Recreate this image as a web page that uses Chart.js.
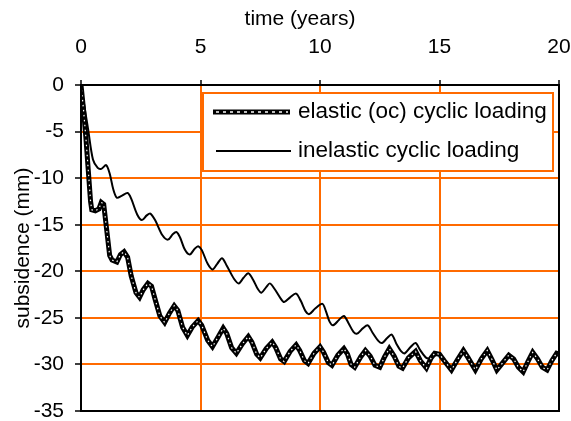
<!DOCTYPE html>
<html>
<head>
<meta charset="utf-8">
<script src="https://cdn.jsdelivr.net/npm/chart.js@4.4.1/dist/chart.umd.min.js"></script>
<style>
  html, body { margin: 0; padding: 0; background: #fff; }
  #wrap { width: 571px; height: 421px; }
</style>
</head>
<body>
<div id="wrap"><canvas id="subsidencechart"></canvas></div>
<script>
// elastic (oc) cyclic loading
const timeElastic = [0, 0.1, 0.2, 0.3, 0.4, 0.45, 0.6, 0.75, 0.85, 0.95, 1.05, 1.2, 1.3, 1.5, 1.65, 1.8, 1.95, 2.1, 2.3, 2.45, 2.6, 2.8, 2.95, 3.1, 3.3, 3.5, 3.7, 3.9, 4.05, 4.25, 4.45, 4.65, 4.9, 5.05, 5.3, 5.5, 5.75, 5.95, 6.1, 6.3, 6.5, 6.75, 7.0, 7.15, 7.35, 7.5, 7.75, 8.0, 8.15, 8.35, 8.5, 8.75, 9.0, 9.15, 9.35, 9.5, 9.75, 10.0, 10.15, 10.35, 10.5, 10.75, 11.0, 11.15, 11.3, 11.45, 11.7, 11.9, 12.1, 12.3, 12.5, 12.7, 12.9, 13.1, 13.3, 13.45, 13.7, 14.0, 14.2, 14.45, 14.65, 14.8, 15.0, 15.2, 15.5, 15.75, 16.0, 16.2, 16.5, 16.75, 17.0, 17.2, 17.4, 17.65, 17.9, 18.1, 18.3, 18.5, 18.7, 18.9, 19.1, 19.3, 19.5, 19.7, 19.9, 20];
const subsElastic = [0, -2.5, -5.5, -9, -12.5, -13.4, -13.5, -13.3, -12.6, -12.8, -15, -18.3, -18.8, -19, -18.2, -17.9, -18.5, -20.5, -22.3, -22.8, -22, -21.3, -21.6, -23, -24.8, -25.5, -24.5, -23.7, -24.2, -26, -26.9, -26, -25.3, -25.8, -27.4, -28.1, -27, -26.1, -26.7, -28.2, -28.8, -27.8, -27.0, -27.6, -28.9, -29.3, -28.3, -27.6, -28.2, -29.4, -29.7, -28.6, -27.9, -28.5, -29.6, -29.9, -28.8, -28.1, -28.7, -29.8, -30.1, -29.0, -28.3, -28.9, -30.0, -30.3, -29.2, -28.5, -29.1, -30.1, -30.3, -29.2, -28.3, -29.1, -30.2, -30.4, -29.3, -28.6, -29.6, -30.4, -29.3, -28.8, -28.9, -29.6, -30.6, -29.5, -28.5, -29.3, -30.6, -29.4, -28.5, -29.5, -30.6, -29.8, -29.0, -29.4, -30.3, -30.8, -29.7, -28.7, -29.4, -30.3, -30.6, -29.6, -28.8, -28.9];

// inelastic cyclic loading
const timeInelastic = [0, 0.1, 0.2, 0.3, 0.5, 0.7, 0.85, 1.05, 1.2, 1.35, 1.5, 1.7, 1.95, 2.1, 2.35, 2.55, 2.75, 2.9, 3.1, 3.4, 3.64, 3.85, 4.0, 4.15, 4.35, 4.55, 4.75, 4.9, 5.05, 5.3, 5.5, 5.7, 5.9, 6.1, 6.4, 6.6, 6.8, 7.0, 7.2, 7.4, 7.55, 7.75, 7.9, 8.1, 8.35, 8.5, 8.75, 9.0, 9.2, 9.4, 9.55, 9.8, 10.1, 10.25, 10.4, 10.55, 10.8, 11.0, 11.2, 11.4, 11.55, 11.8, 12.0, 12.2, 12.45, 12.6, 12.8, 13.0, 13.2, 13.4, 13.55, 13.8, 14.0, 14.2, 14.45, 14.65, 14.85, 15.0, 15.2, 15.5, 15.75, 16.0, 16.2, 16.5, 16.75, 17.0, 17.2, 17.4, 17.7, 17.9, 18.1, 18.3, 18.5, 18.7, 18.9, 19.1, 19.3, 19.5, 19.7, 19.9, 20];
const subsInelastic = [0, -1.6, -3.2, -4.8, -8.0, -8.9, -9.0, -8.6, -9.5, -11.2, -12.1, -11.9, -11.6, -12.2, -13.9, -14.5, -14.0, -13.8, -14.5, -16.1, -16.6, -16.0, -15.8, -16.4, -17.7, -18.2, -17.6, -17.3, -17.7, -19.2, -19.8, -19.2, -18.6, -19.4, -20.8, -21.3, -20.7, -20.2, -20.9, -21.9, -22.3, -21.7, -21.3, -21.9, -22.9, -23.3, -22.8, -22.4, -23.2, -24.3, -24.6, -24.0, -23.5, -24.3, -25.4, -25.8, -25.2, -24.8, -25.6, -26.5, -26.7, -26.1, -25.8, -26.6, -27.5, -27.7, -27.2, -26.8, -27.8, -28.6, -28.8, -28.1, -27.7, -28.5, -29.3, -29.3, -29.0, -29.0, -29.6, -30.4, -29.4, -28.6, -29.3, -30.4, -29.4, -28.6, -29.4, -30.4, -29.7, -29.1, -29.5, -30.2, -30.6, -29.7, -28.8, -29.4, -30.2, -30.5, -29.6, -28.9, -29.0];

const xTicks = [0, 5, 10, 15, 20];
const yTicks = [0, -5, -10, -15, -20, -25, -30, -35];
const seriesNames = ["elastic (oc) cyclic loading", "inelastic cyclic loading"];
const xTitle = "time (years)";

const orange = "#ff6a00";
const fontName = "'Liberation Sans', Arial, sans-serif";

function toPoints(xs, ys) {
    return xs.map((x, i) => ({ x: x, y: ys[i] }));
}

// frame round the plot area, legend box inside it, x title
const frameAndLegend = {
    id: "frameAndLegend",
    afterDatasetsDraw(chart) {
        const ctx = chart.ctx;
        const a = chart.chartArea;
        ctx.save();
        ctx.strokeStyle = "#000";
        ctx.lineWidth = 2;
        ctx.strokeRect(a.left, a.top, a.right - a.left, a.bottom - a.top);

        // legend
        ctx.fillStyle = "#fff";
        ctx.fillRect(203, 93, 350, 78);
        ctx.strokeStyle = orange;
        ctx.lineWidth = 2;
        ctx.strokeRect(203, 93, 350, 78);

        ctx.strokeStyle = "#000";
        ctx.lineWidth = 5;
        ctx.beginPath(); ctx.moveTo(213, 112); ctx.lineTo(290, 112); ctx.stroke();
        ctx.strokeStyle = "#fff";
        ctx.lineWidth = 1.5;
        ctx.setLineDash([3, 4]);
        ctx.beginPath(); ctx.moveTo(216, 112); ctx.lineTo(288, 112); ctx.stroke();
        ctx.setLineDash([]);

        ctx.strokeStyle = "#000";
        ctx.lineWidth = 2;
        ctx.beginPath(); ctx.moveTo(216, 151); ctx.lineTo(291, 151); ctx.stroke();

        ctx.fillStyle = "#000";
        ctx.font = "22.5px " + fontName;
        ctx.textBaseline = "middle";
        ctx.fillText(seriesNames[0], 298, 112);
        ctx.fillText(seriesNames[1], 298, 151);

        // axis title sits a little left of the plot centre
        ctx.font = "21px " + fontName;
        ctx.textAlign = "center";
        ctx.fillText(xTitle, 300, 19);
        ctx.restore();
    }
};

const subsidenceChart = new Chart(document.getElementById("subsidencechart"), {
    type: "line",
    data: {
        datasets: [
            {
                label: "dots",
                data: toPoints(timeElastic, subsElastic),
                borderColor: "#fff",
                borderWidth: 1.2,
                borderDash: [1.5, 3.5],
                pointRadius: 0,
                tension: 0,
                order: 0
            },
            {
                label: seriesNames[0],
                data: toPoints(timeElastic, subsElastic),
                borderColor: "#000",
                borderWidth: 5,
                pointRadius: 0,
                tension: 0,
                order: 1
            },
            {
                label: seriesNames[1],
                data: toPoints(timeInelastic, subsInelastic),
                borderColor: "#000",
                borderWidth: 2,
                pointRadius: 0,
                tension: 0.3,
                order: 2
            }
        ]
    },
    options: {
        responsive: true,
        maintainAspectRatio: false,
        animation: false,
        layout: { padding: { left: 0, top: 0, right: 12, bottom: 10 } },
        plugins: {
            legend: { display: false },
            tooltip: { enabled: false }
        },
        scales: {
            x: {
                type: "linear",
                position: "top",
                min: 0,
                max: 20,
                afterFit: (scale) => {
                    scale.height = 85;
                    scale.paddingLeft = 0;
                    scale.paddingRight = 0;
                },
                afterBuildTicks: (scale) => { scale.ticks = xTicks.map(v => ({ value: v })); },
                ticks: {
                    color: "#000",
                    padding: 20,
                    font: { family: fontName, size: 21 },
                    maxRotation: 0
                },
                grid: { color: orange, lineWidth: 2, tickColor: "#000", tickLength: 5, tickWidth: 1.5 },
                border: { display: false }
            },
            y: {
                type: "linear",
                min: -35,
                max: 0,
                afterFit: (scale) => {
                    scale.width = 81;
                    scale.paddingTop = 0;
                    scale.paddingBottom = 0;
                },
                afterBuildTicks: (scale) => { scale.ticks = yTicks.map(v => ({ value: v })); },
                ticks: {
                    color: "#000",
                    padding: 11,
                    font: { family: fontName, size: 21 }
                },
                grid: { color: orange, lineWidth: 2, tickColor: "#000", tickLength: 6, tickWidth: 1.5 },
                border: { display: false },
                title: {
                    display: true,
                    text: "subsidence (mm)",
                    color: "#000",
                    font: { family: fontName, size: 21 },
                    padding: { top: 11, bottom: 0 }
                }
            }
        }
    },
    plugins: [frameAndLegend]
});
</script>
</body>
</html>
